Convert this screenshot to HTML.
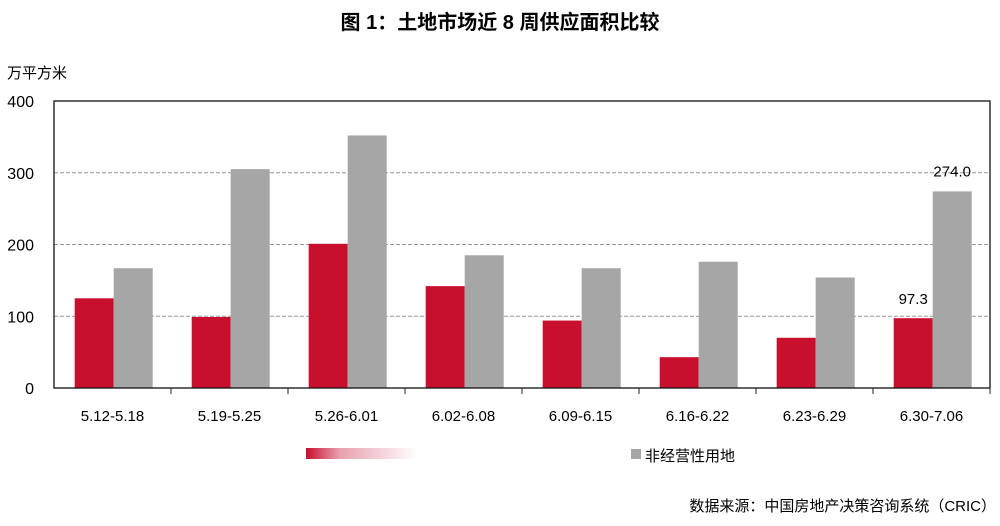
<!DOCTYPE html>
<html><head><meta charset="utf-8"><style>
body{margin:0;background:#fff;width:1000px;height:521px;overflow:hidden;font-family:"Liberation Sans","Noto Sans CJK SC",sans-serif}
</style></head><body>
<svg width="1000" height="521" xmlns="http://www.w3.org/2000/svg" font-family="Liberation Sans, Noto Sans CJK SC, sans-serif">
<defs><linearGradient id="lg" x1="0" x2="1"><stop offset="0" stop-color="#c8102e"/><stop offset="0.3" stop-color="#e8a0ae"/><stop offset="1" stop-color="#fff"/></linearGradient></defs>
<text x="500" y="29" text-anchor="middle" font-size="20" font-weight="bold">图 1：土地市场近 8 周供应面积比较</text>
<text x="7" y="78" font-size="15">万平方米</text>
<g id="grid"></g><g id="bars"></g><g id="axes"></g>
<rect x="306" y="448" width="112" height="11" fill="url(#lg)"/>
<rect x="631" y="449" width="10" height="10" fill="#a6a6a6"/>
<text x="645" y="461" font-size="15">非经营性用地</text>
<text x="996" y="511" text-anchor="end" font-size="15">数据来源：中国房地产决策咨询系统（CRIC）</text>
</svg>
<script>
const categories=["5.12-5.18","5.19-5.25","5.26-6.01","6.02-6.08","6.09-6.15","6.16-6.22","6.23-6.29","6.30-7.06"];
const redValues=[125,99,201,142,94,43,70,97.3];
const greyValues=[167,305,352,185,167,176,154,274.0];
const yTicks=[0,100,200,300,400];
const ns="http://www.w3.org/2000/svg";
const L=54,R=990,T=101,B=388,yMax=400;
const y=v=>B-v/yMax*(B-T);
const cw=(R-L)/categories.length;
const x=i=>L+i*cw;
function mk(tag,attrs,parent){const e=document.createElementNS(ns,tag);for(const k in attrs)e.setAttribute(k,attrs[k]);parent.appendChild(e);return e;}
const grid=document.getElementById('grid'),bars=document.getElementById('bars'),axes=document.getElementById('axes');
yTicks.forEach(t=>{
 if(t>0&&t<yMax){const l=mk('line',{x1:L,x2:R,y1:y(t),y2:y(t),stroke:'#999','stroke-dasharray':'4,2','stroke-width':1},grid);
 
 }
 const tx=mk('text',{x:L-20,y:y(t)+6,'text-anchor':'end','font-size':16},axes);tx.textContent=t;
 
 
});
const box=mk('rect',{x:L,y:T,width:R-L,height:B-T,fill:'none',stroke:'#111','stroke-width':1.3},axes);


categories.forEach((c,i)=>{
 const bw=39,x0=x(i)+20.7;
 const r=mk('rect',{x:x0,y:y(redValues[i]),width:bw,height:B-y(redValues[i]),fill:'#c8102e'},bars);
 
 
 const g=mk('rect',{x:x0+bw,y:y(greyValues[i]),width:bw,height:B-y(greyValues[i]),fill:'#a6a6a6'},bars);
 
 
 const tk=mk('line',{x1:x(i+1),x2:x(i+1),y1:B,y2:B+6,stroke:'#222'},axes);
 
 
 const tl=mk('text',{x:x(i)+cw/2,y:B+33,'text-anchor':'middle','font-size':15},axes);tl.textContent=c;
 
 
 if(i===categories.length-1){
  const a=mk('text',{x:x0+bw/2,y:y(redValues[i])-14,'text-anchor':'middle','font-size':15},bars);a.textContent=redValues[i].toFixed(1);
  
  
  const b=mk('text',{x:x0+bw*1.5,y:y(greyValues[i])-15,'text-anchor':'middle','font-size':15},bars);b.textContent=greyValues[i].toFixed(1);
  
  
 }
});
</script>
</body></html>
